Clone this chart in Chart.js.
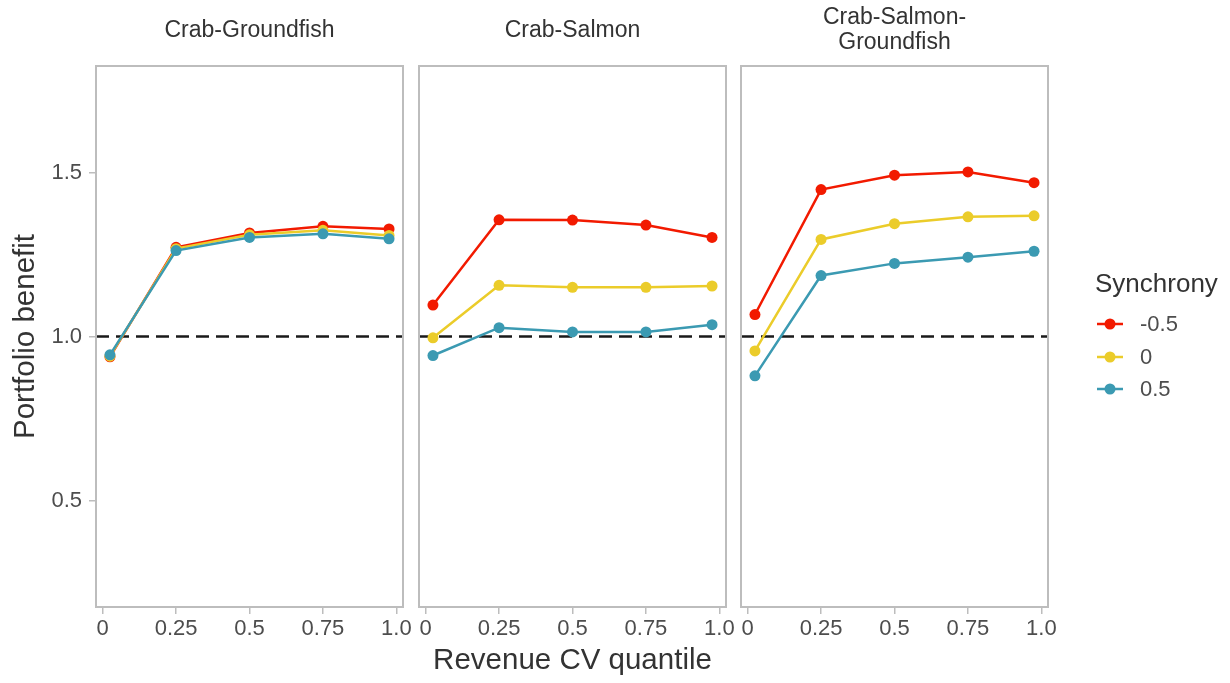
<!DOCTYPE html>
<html>
<head>
<meta charset="utf-8">
<script src="https://cdn.jsdelivr.net/npm/chart.js@4/dist/chart.umd.min.js"></script>
<style>
  html, body { margin: 0; padding: 0; background: #ffffff; }
  #wrap { position: relative; width: 1230px; height: 683px; overflow: hidden;
          font-family: "Liberation Sans", Arial, sans-serif; }
  #wrap canvas { position: absolute; left: 0; top: 0; }
  #legend-title { position: absolute; left: 1095px; top: 270px; font-size: 26px;
                  line-height: 26px; color: #333333; white-space: nowrap; }
  .legend-row { position: absolute; left: 1096px; height: 22px; display: flex;
                align-items: center; font-size: 22px; line-height: 22px; color: #4d4d4d; }
  .legend-row svg { display: block; margin-right: 16px; }
</style>
</head>
<body>
<div id="wrap">
  <canvas id="p1" width="1230" height="683"></canvas>
  <canvas id="p2" width="1230" height="683"></canvas>
  <canvas id="p3" width="1230" height="683"></canvas>
  <div id="legend-title">Synchrony</div>
</div>
<script>
// Revenue CV quantiles at which portfolio benefit was evaluated
const quantiles = [0.025, 0.25, 0.5, 0.75, 0.975];

// Synchrony levels and their colours
const synchrony = ['-0.5', '0', '0.5'];
const synchronyColors = ['#F21A00', '#EBCC2A', '#3B9AB2'];

// Facet titles
const panelTitles = ['Crab-Groundfish', 'Crab-Salmon', ['Crab-Salmon-', 'Groundfish']];

// Crab-Groundfish
const cgNeg  = [0.938, 1.272, 1.316, 1.336, 1.328];
const cgZero = [0.940, 1.268, 1.310, 1.324, 1.308];
const cgPos  = [0.944, 1.262, 1.302, 1.313, 1.298];

// Crab-Salmon
const csNeg  = [1.096, 1.356, 1.355, 1.340, 1.302];
const csZero = [0.996, 1.156, 1.150, 1.150, 1.154];
const csPos  = [0.942, 1.027, 1.014, 1.014, 1.036];

// Crab-Salmon-Groundfish
const csgNeg  = [1.067, 1.448, 1.492, 1.502, 1.469];
const csgZero = [0.956, 1.296, 1.344, 1.365, 1.368];
const csgPos  = [0.880, 1.186, 1.223, 1.242, 1.260];

// Axis ticks and limits
const xTicks = [0, 0.25, 0.5, 0.75, 1.0];
const xTickLabels = ['0', '0.25', '0.5', '0.75', '1.0'];
const yTicks = [0.5, 1.0, 1.5];
const yTickLabels = ['0.5', '1.0', '1.5'];
const xLimits = [-0.0225, 1.0225];
const yLimits = [0.175, 1.825];

// Break-even reference line
const referenceBenefit = 1.0;

const FONT = '"Liberation Sans", Arial, sans-serif';
const TICK_COLOR = '#4d4d4d';
const FRAME_COLOR = '#bdbdbd';

// Frame drawn around each facet on top of the data
const panelFrame = {
  id: 'panelFrame',
  afterDatasetsDraw(chart) {
    const { ctx, chartArea: a } = chart;
    ctx.save();
    ctx.strokeStyle = FRAME_COLOR;
    ctx.lineWidth = 2;
    ctx.strokeRect(a.left, a.top, a.right - a.left, a.bottom - a.top);
    ctx.restore();
  }
};

function makePanel(canvasId, title, series, cfg) {
  const datasets = series.map((vals, i) => ({
    label: synchrony[i],
    data: quantiles.map((q, j) => ({ x: q, y: vals[j] })),
    borderColor: synchronyColors[i],
    backgroundColor: synchronyColors[i],
    borderWidth: 2.5,
    pointRadius: 5.5,
    pointHoverRadius: 5.5,
    pointBorderWidth: 0,
    tension: 0,
    order: 3 - i
  }));
  datasets.push({
    label: 'reference',
    data: [{ x: xLimits[0], y: referenceBenefit }, { x: xLimits[1], y: referenceBenefit }],
    borderColor: '#1a1a1a',
    borderWidth: 2.5,
    borderDash: [13, 7],
    pointRadius: 0,
    order: 10
  });

  const yScale = {
    type: 'linear',
    min: yLimits[0],
    max: yLimits[1],
    display: cfg.showY,
    afterBuildTicks: s => { s.ticks = yTicks.map(v => ({ value: v })); },
    ticks: {
      callback: (v, i) => yTickLabels[i],
      font: { size: 22, family: FONT },
      color: TICK_COLOR,
      padding: 7
    },
    grid: { display: true, drawOnChartArea: false, drawTicks: true, tickLength: 7,
            color: FRAME_COLOR, lineWidth: 1.5 },
    border: { display: false },
    title: {
      display: true,
      text: 'Portfolio benefit',
      font: { size: 29.5, family: FONT },
      color: '#333333',
      padding: { top: 8, bottom: 0 }
    }
  };
  if (cfg.showY) {
    yScale.afterFit = s => { s.width = 96; };
  }

  return new Chart(document.getElementById(canvasId), {
    type: 'line',
    data: { datasets },
    plugins: [panelFrame],
    options: {
      responsive: false,
      animation: false,
      devicePixelRatio: 1,
      events: [],
      layout: { padding: { left: cfg.left, right: cfg.right, top: 0, bottom: 0 } },
      plugins: {
        legend: { display: false },
        tooltip: { enabled: false },
        title: {
          display: true,
          text: title,
          fullSize: false,
          align: 'center',
          color: '#333333',
          font: { size: 23, family: FONT, weight: 'normal', lineHeight: 1.1 },
          padding: cfg.titlePadding
        }
      },
      scales: {
        x: {
          type: 'linear',
          min: xLimits[0],
          max: xLimits[1],
          afterBuildTicks: s => { s.ticks = xTicks.map(v => ({ value: v })); },
          afterFit: s => { s.height = 76; },
          ticks: {
            callback: (v, i) => xTickLabels[i],
            font: { size: 22, family: FONT },
            color: TICK_COLOR,
            padding: 2,
            maxRotation: 0,
            autoSkip: false
          },
          grid: { display: true, drawOnChartArea: false, drawTicks: true, tickLength: 7,
                  color: FRAME_COLOR, lineWidth: 1.5 },
          border: { display: false },
          title: {
            display: cfg.showXTitle,
            text: 'Revenue CV quantile',
            font: { size: 29.5, family: FONT },
            color: '#333333',
            padding: { top: 0, bottom: 4 }
          }
        },
        y: yScale
      }
    }
  });
}

makePanel('p1', panelTitles[0], [cgNeg, cgZero, cgPos],
  { left: 0, right: 827, showY: true, showXTitle: false, titlePadding: { top: 18, bottom: 22.7 } });
makePanel('p2', panelTitles[1], [csNeg, csZero, csPos],
  { left: 419, right: 504, showY: false, showXTitle: true, titlePadding: { top: 18, bottom: 22.7 } });
makePanel('p3', panelTitles[2], [csgNeg, csgZero, csgPos],
  { left: 741, right: 182, showY: false, showXTitle: false, titlePadding: { top: 5, bottom: 10.4 } });

// Legend keys for the synchrony levels
const legendCenters = [324, 356.5, 389];
const wrap = document.getElementById('wrap');
synchrony.forEach((lab, i) => {
  const row = document.createElement('div');
  row.className = 'legend-row';
  row.style.top = (legendCenters[i] - 11) + 'px';
  row.innerHTML =
    '<svg width="28" height="14" viewBox="0 0 28 14">' +
    '<line x1="1" y1="7" x2="27" y2="7" stroke="' + synchronyColors[i] + '" stroke-width="2.5"/>' +
    '<circle cx="14" cy="7" r="5.5" fill="' + synchronyColors[i] + '"/></svg>' +
    '<span>' + lab + '</span>';
  wrap.appendChild(row);
});
</script>
</body>
</html>
